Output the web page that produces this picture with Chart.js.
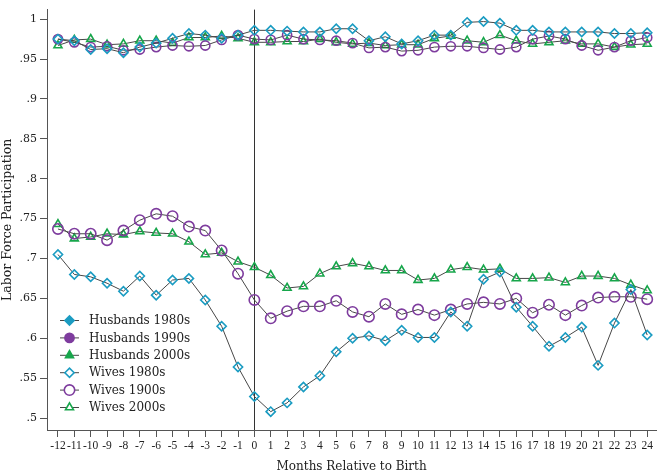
<!DOCTYPE html>
<html>
<head>
<meta charset="utf-8">
<script src="https://cdn.jsdelivr.net/npm/chart.js@4.4.1/dist/chart.umd.min.js"></script>
<style>
  html, body { margin: 0; padding: 0; background: #fff; }
  #wrap { width: 663px; height: 474px; }
</style>
</head>
<body>
<div id="wrap"><canvas id="lfpChart"></canvas></div>
<script>
const months = [-12, -11, -10, -9, -8, -7, -6, -5, -4, -3, -2, -1, 0, 1, 2, 3, 4, 5, 6,
  7, 8, 9, 10, 11, 12, 13, 14, 15, 16, 17, 18, 19, 20, 21, 22, 23, 24];

const yTicks = [0.5, 0.55, 0.6, 0.65, 0.7, 0.75, 0.8, 0.85, 0.9, 0.95, 1];
const yTickLabels = ['.5', '.55', '.6', '.65', '.7', '.75', '.8', '.85', '.9', '.95', '1'];

const husbands1980 = [0.975, 0.973, 0.962, 0.963, 0.958, 0.965, 0.970, 0.976, 0.982, 0.980, 0.976, 0.980,
  0.986, 0.986, 0.985, 0.984, 0.984, 0.988, 0.988, 0.973, 0.978, 0.969, 0.973, 0.980, 0.980,
  0.996, 0.997, 0.995, 0.986, 0.986, 0.984, 0.984, 0.984, 0.984, 0.982, 0.982, 0.983];
const husbands1990 = [0.975, 0.971, 0.965, 0.966, 0.961, 0.962, 0.965, 0.967, 0.966, 0.967, 0.974, 0.980,
  0.975, 0.974, 0.980, 0.975, 0.974, 0.973, 0.970, 0.964, 0.965, 0.960, 0.961, 0.965, 0.966,
  0.966, 0.964, 0.962, 0.965, 0.975, 0.979, 0.975, 0.967, 0.961, 0.965, 0.973, 0.977];
const husbands2000 = [0.967, 0.974, 0.975, 0.968, 0.969, 0.973, 0.973, 0.970, 0.977, 0.977, 0.979, 0.976,
  0.971, 0.971, 0.972, 0.972, 0.975, 0.971, 0.969, 0.970, 0.967, 0.968, 0.968, 0.976, 0.979,
  0.973, 0.971, 0.980, 0.973, 0.969, 0.971, 0.973, 0.969, 0.969, 0.965, 0.968, 0.969];
const wives1980 = [0.705, 0.680, 0.677, 0.669, 0.659, 0.678, 0.654, 0.673, 0.675, 0.648, 0.615, 0.564,
  0.527, 0.508, 0.519, 0.539, 0.553, 0.583, 0.600, 0.603, 0.597, 0.610, 0.601, 0.601, 0.633,
  0.615, 0.674, 0.683, 0.639, 0.615, 0.590, 0.601, 0.614, 0.566, 0.619, 0.661, 0.604];
const wives1990 = [0.737, 0.731, 0.731, 0.723, 0.735, 0.748, 0.756, 0.753, 0.740, 0.735, 0.710, 0.681,
  0.648, 0.625, 0.634, 0.640, 0.640, 0.647, 0.633, 0.627, 0.643, 0.630, 0.636, 0.629, 0.636,
  0.643, 0.645, 0.643, 0.650, 0.632, 0.642, 0.629, 0.641, 0.651, 0.652, 0.652, 0.649];
const wives2000 = [0.743, 0.725, 0.727, 0.731, 0.730, 0.734, 0.732, 0.731, 0.721, 0.705, 0.707, 0.696,
  0.689, 0.679, 0.663, 0.665, 0.681, 0.690, 0.694, 0.690, 0.685, 0.685, 0.673, 0.675, 0.686,
  0.689, 0.686, 0.687, 0.675, 0.675, 0.676, 0.670, 0.678, 0.678, 0.675, 0.667, 0.660];

const seriesNames = ['Husbands 1980s', 'Husbands 1990s', 'Husbands 2000s',
  'Wives 1980s', 'Wives 1900s', 'Wives 2000s'];
const seriesValues = [husbands1980, husbands1990, husbands2000, wives1980, wives1990, wives2000];

const teal = '#1b9cc2';
const purple = '#7e3c9e';
const green = '#17a64b';
const lineGray = '#474747';
const markerColors = [teal, purple, green, teal, purple, green];
const markerShapes = ['rectRot', 'circle', 'triangle', 'rectRot', 'circle', 'triangle'];
const markerSizes = [4.6, 4.6, 4.6, 4.6, 5.2, 4.6];
const filledInLegend = [true, true, true, false, false, false];

const serif = "'DejaVu Serif', 'Liberation Serif', serif";
const tickSerif = "'Liberation Serif', 'DejaVu Serif', serif";

const datasets = seriesNames.map((name, i) => ({
  label: name,
  data: months.map((m, j) => ({ x: m, y: seriesValues[i][j] })),
  borderColor: lineGray,
  borderWidth: 1,
  pointStyle: markerShapes[i],
  pointRadius: markerSizes[i],
  pointBorderColor: markerColors[i],
  pointBackgroundColor: 'rgba(0,0,0,0)',
  pointBorderWidth: 1.6,
  tension: 0
}));

// vertical reference line at month 0 and the legend inside the plot
const overlay = {
  id: 'overlay',
  beforeDatasetsDraw(chart) {
    const { ctx, chartArea, scales } = chart;
    const x0 = Math.round(scales.x.getPixelForValue(0)) + 0.5;
    ctx.save();
    ctx.strokeStyle = '#333';
    ctx.lineWidth = 1;
    ctx.beginPath();
    ctx.moveTo(x0, chartArea.top);
    ctx.lineTo(x0, chartArea.bottom);
    ctx.stroke();
    ctx.restore();
  },
  afterDraw(chart) {
    const { ctx } = chart;
    ctx.save();
    ctx.font = '12px ' + serif;
    ctx.textBaseline = 'middle';
    chart.data.datasets.forEach((ds, i) => {
      const y = 320.5 + i * 17.4;
      ctx.strokeStyle = lineGray;
      ctx.lineWidth = 1;
      ctx.beginPath();
      ctx.moveTo(60, y);
      ctx.lineTo(79, y);
      ctx.stroke();
      ctx.strokeStyle = markerColors[i];
      ctx.fillStyle = filledInLegend[i] ? markerColors[i] : '#fff';
      ctx.lineWidth = 1.6;
      Chart.helpers.drawPoint(ctx, { pointStyle: markerShapes[i], radius: markerSizes[i], borderWidth: 1.6 }, 69.5, y);
      ctx.fillStyle = '#222';
      ctx.fillText(ds.label, 89, y + 0.5);
    });
    ctx.restore();
  }
};

new Chart(document.getElementById('lfpChart'), {
  type: 'line',
  data: { datasets },
  plugins: [overlay],
  options: {
    responsive: true,
    maintainAspectRatio: false,
    animation: false,
    layout: { padding: { top: 0, right: 3, left: 0, bottom: 0 } },
    plugins: {
      legend: { display: false },
      tooltip: { enabled: false }
    },
    scales: {
      x: {
        type: 'linear',
        min: -12.67,
        max: 24.55,
        afterBuildTicks(scale) { scale.ticks = months.map(v => ({ value: v })); },
        afterFit(scale) { scale.height = 44; },
        border: { display: true, color: '#555', width: 1 },
        grid: { drawOnChartArea: false, drawTicks: true, tickLength: 7, color: '#555' },
        ticks: {
          autoSkip: false,
          maxRotation: 0,
          color: '#222',
          padding: 2,
          font: { family: tickSerif, size: 11.5 },
          callback: v => String(v)
        },
        title: {
          display: true,
          text: 'Months Relative to Birth',
          color: '#222',
          font: { family: serif, size: 12 },
          padding: { top: 5, bottom: 0 }
        }
      },
      y: {
        min: 0.485,
        max: 1.012,
        afterBuildTicks(scale) { scale.ticks = yTicks.map(v => ({ value: v })); },
        afterFit(scale) { scale.width = 47; },
        border: { display: true, color: '#555', width: 1 },
        grid: { drawOnChartArea: false, drawTicks: true, tickLength: 7, color: '#555' },
        ticks: {
          color: '#222',
          padding: 3,
          font: { family: serif, size: 11 },
          callback: (v) => yTickLabels[yTicks.findIndex(t => Math.abs(t - v) < 1e-6)]
        },
        title: {
          display: true,
          text: 'Labor Force Participation',
          color: '#222',
          font: { family: serif, size: 12.5 },
          padding: { top: 0, bottom: 2 }
        }
      }
    }
  }
});
</script>
</body>
</html>
